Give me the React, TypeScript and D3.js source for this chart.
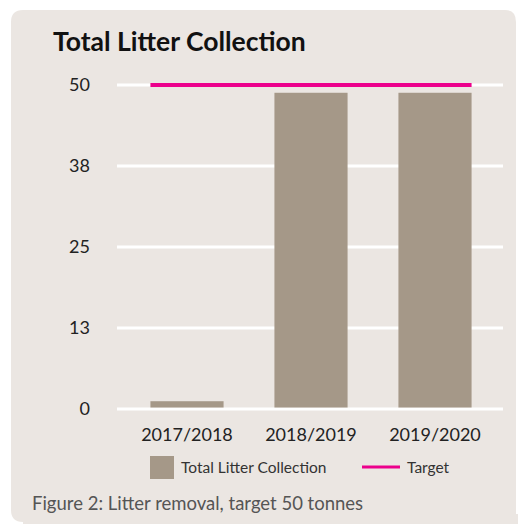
import React from "react";
import * as d3 from "d3";

const categories = ["2017/2018", "2018/2019", "2019/2020"];
const litterValues = [1.2, 48.8, 48.8];
const targetValue = 50;
const yTickValues = [0, 12.5, 25, 37.5, 50];
const yTickLabels = ["0", "13", "25", "38", "50"];
const seriesNames = ["Total Litter Collection", "Target"];
const titleText = "Total Litter Collection";
const captionText = "Figure 2: Litter removal, target 50 tonnes";

const W = 518;
const H = 524;
const FONT = "Lato, 'Open Sans', sans-serif";

export default function App() {
  const x = d3.scaleBand<string>().domain(categories).range([125, 497]).paddingInner(0.41).paddingOuter(0.205);
  const y = d3.scaleLinear().domain([0, 50]).range([409, 85]);
  const first = x(categories[0])!;
  const last = x(categories[categories.length - 1])! + x.bandwidth();
  return (
    <svg width={W} height={H} style={{ position: "absolute", left: 0, top: 0 }}>
      <path d="M11,22 Q11,10 23,10 L505,10 Q516,10 516,22 L516,524 L518,524 L23,524 L23,522 Q11,522 11,510 Z" fill="#ebe6e2" />
      <rect x={23} y={514} width={495} height={10} fill="#ebe6e2" />
      <text x={53} y={51} fontFamily={FONT} fontWeight={700} fontSize={26.5} fill="#111">{titleText}</text>
      {yTickValues.map((v, i) => (
        <g key={v}>
          <line x1={117} x2={503} y1={y(v)} y2={y(v)} stroke="#fff" strokeWidth={3} />
          <text x={90} y={y(v) + 6} textAnchor="end" fontFamily={FONT} fontSize={18} fill="#222">{yTickLabels[i]}</text>
        </g>
      ))}
      {categories.map((c, i) => (
        <g key={c}>
          <rect x={x(c)} y={y(litterValues[i])} width={x.bandwidth()} height={y(0) - 1.5 - y(litterValues[i])} fill="#a59888" />
          <text x={x(c)! + x.bandwidth() / 2} y={441} textAnchor="middle" fontFamily={FONT} fontSize={18} fill="#222">{c}</text>
        </g>
      ))}
      <line x1={first} x2={last} y1={y(targetValue)} y2={y(targetValue)} stroke="#ec008c" strokeWidth={4} />
      <rect x={150} y={456} width={24} height={23} fill="#a59888" />
      <text x={181} y={473} fontFamily={FONT} fontSize={15.5} fill="#333">{seriesNames[0]}</text>
      <line x1={362} x2={400} y1={467} y2={467} stroke="#ec008c" strokeWidth={3} />
      <text x={407} y={473} fontFamily={FONT} fontSize={15.5} fill="#333">{seriesNames[1]}</text>
      <text x={32} y={510} fontFamily={FONT} fontSize={18.5} fill="#555">{captionText}</text>
    </svg>
  );
}
